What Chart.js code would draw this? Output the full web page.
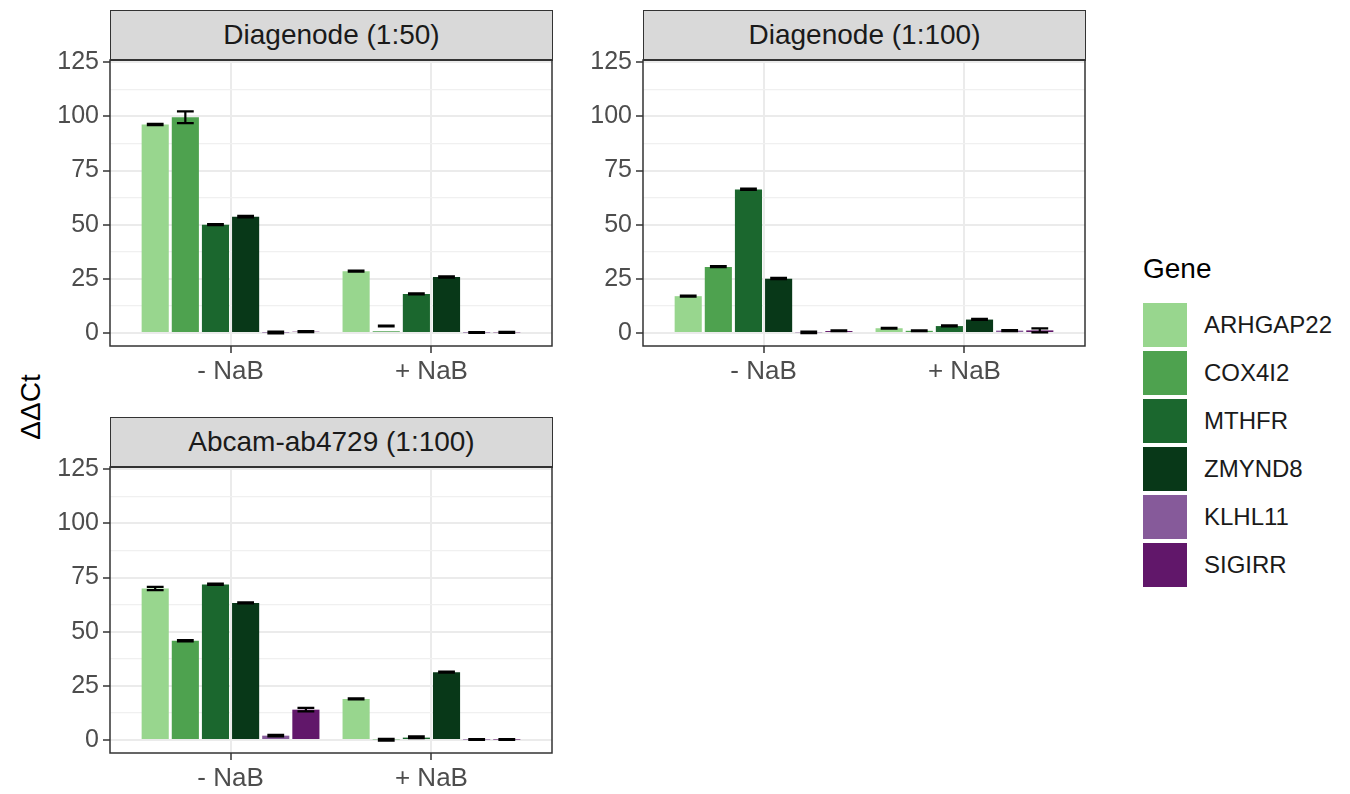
<!DOCTYPE html>
<html>
<head>
<meta charset="utf-8">
<script src="https://cdn.jsdelivr.net/npm/chart.js@4.4.1/dist/chart.umd.min.js"></script>
<style>
  body { margin: 0; background: #fff; width: 1350px; height: 794px; position: relative; overflow: hidden; font-family: "Liberation Sans", Arial, sans-serif; }
  canvas { position: absolute; }
  .strip { position: absolute; box-sizing: border-box; width: 443px; height: 51px; background: #d9d9d9; border: 1.5px solid #333; border-bottom-width: 2.5px; color: #1a1a1a; font-size: 28px; display: flex; align-items: center; justify-content: center; z-index: 2; }
  #ytitle { position: absolute; left: 31px; top: 407px; transform: translate(-50%, -50%) rotate(-90deg); font-size: 28px; white-space: nowrap; }
  #legend { position: absolute; left: 1143px; top: 253px; }
  #legend .title { font-size: 28px; margin-bottom: 16px; }
  #legend .row { display: flex; align-items: center; height: 48px; }
  #legend .key { width: 44px; height: 44px; margin-right: 17px; }
  #legend .lab { font-size: 24px; color: #1a1a1a; }
</style>
</head>
<body>
<canvas id="panel1" width="506" height="353" style="left:50px;top:38px"></canvas>
<canvas id="panel2" width="506" height="353" style="left:583px;top:38px"></canvas>
<canvas id="panel3" width="506" height="353" style="left:50px;top:445px"></canvas>
<div class="strip" id="strip1" style="left:110px;top:10px"></div>
<div class="strip" id="strip2" style="left:643px;top:10px"></div>
<div class="strip" id="strip3" style="left:110px;top:417px"></div>
<div id="ytitle">ΔΔCt</div>
<div id="legend"></div>

<script>
const genes = ["ARHGAP22", "COX4I2", "MTHFR", "ZMYND8", "KLHL11", "SIGIRR"];
const geneColors = ["#98d68e", "#4ea24f", "#1b672e", "#083818", "#865a9a", "#61176a"];
const treatments = ["- NaB", "+ NaB"];
const panelTitles = ["Diagenode (1:50)", "Diagenode (1:100)", "Abcam-ab4729 (1:100)"];
const yMajor = [0, 25, 50, 75, 100, 125];
const yMinor = [12.5, 37.5, 62.5, 87.5, 112.5];

// ddCt per gene, each pair is [- NaB, + NaB]; lo/hi are the error bar ends
const dia50Mean = [[96.2, 28.5], [99.6, 0.8], [50.0, 18.0], [53.7, 25.8], [0.2, 0.2], [0.6, 0.3]];
const dia50Lo = [[95.9, 28.3], [96.9, 3.1], [49.8, 17.8], [53.4, 25.6], [-0.2, 0.0], [0.4, 0.1]];
const dia50Hi = [[96.5, 28.8], [102.3, 3.4], [50.3, 18.3], [54.1, 26.1], [0.6, 0.4], [0.9, 0.5]];

const dia100Mean = [[17.0, 2.2], [30.5, 1.0], [66.2, 3.2], [25.0, 6.2], [0.3, 1.1], [0.9, 1.2]];
const dia100Lo = [[16.8, 2.0], [30.4, 0.8], [66.0, 3.0], [24.9, 6.0], [-0.1, 0.9], [0.8, 0.3]];
const dia100Hi = [[17.3, 2.4], [30.9, 1.2], [66.6, 3.5], [25.4, 6.5], [0.7, 1.3], [1.2, 2.1]];

const abcamMean = [[69.9, 18.9], [45.8, 0.3], [71.8, 1.1], [63.2, 31.3], [2.0, 0.2], [14.0, 0.2]];
const abcamLo = [[69.2, 18.7], [45.5, -0.3], [71.6, 0.9], [63.0, 31.1], [1.7, 0.0], [13.2, 0.0]];
const abcamHi = [[70.7, 19.2], [46.1, 0.5], [72.2, 1.7], [63.5, 31.6], [2.4, 0.4], [14.8, 0.4]];

const isMinor = (c) => c.tick && yMinor.includes(c.tick.value);

const errorBars = {
  id: "errorBars",
  afterDatasetsDraw(chart) {
    const { ctx } = chart;
    const y = chart.scales.y;
    ctx.save();
    ctx.strokeStyle = "#000";
    ctx.lineWidth = 2.2;
    chart.data.datasets.forEach((ds, i) => {
      chart.getDatasetMeta(i).data.forEach((bar, j) => {
        const top = y.getPixelForValue(ds.errHi[j]);
        const bottom = y.getPixelForValue(ds.errLo[j]);
        const half = bar.width * 0.31;
        ctx.beginPath();
        ctx.moveTo(bar.x - half, top);
        ctx.lineTo(bar.x + half, top);
        ctx.moveTo(bar.x, top);
        ctx.lineTo(bar.x, bottom);
        ctx.moveTo(bar.x - half, bottom);
        ctx.lineTo(bar.x + half, bottom);
        ctx.stroke();
      });
    });
    ctx.restore();
  },
  afterDraw(chart) {
    // panel border, like theme_bw
    const { ctx, chartArea: a } = chart;
    ctx.save();
    ctx.strokeStyle = "#333";
    ctx.lineWidth = 1.5;
    ctx.strokeRect(a.left, a.top, a.right - a.left, a.bottom - a.top);
    ctx.restore();
  },
};

const makePanel = (id, mean, lo, hi) => {
  new Chart(document.getElementById(id), {
    type: "bar",
    data: {
      datasets: genes.map((g, i) => ({
        label: g,
        backgroundColor: geneColors[i],
        data: treatments.map((t, j) => ({ x: j + 1, y: mean[i][j] })),
        errLo: lo[i],
        errHi: hi[i],
      })),
    },
    options: {
      responsive: false,
      animation: false,
      categoryPercentage: 0.9,
      barPercentage: 0.9,
      layout: { padding: { top: 22, right: 4, left: 0, bottom: 0 } },
      plugins: { legend: { display: false }, tooltip: { enabled: false } },
      scales: {
        x: {
          type: "linear",
          min: 0.4,
          max: 2.6,
          offset: false,
          afterBuildTicks: (s) => { s.ticks = treatments.map((t, j) => ({ value: j + 1 })); },
          afterFit: (s) => { s.height = 45; },
          border: { display: false },
          grid: { offset: false, color: "#ebebeb", lineWidth: 2, tickColor: "#333", tickWidth: 1.5, tickLength: 7 },
          ticks: {
            callback: (v) => treatments[v - 1] || "",
            color: "#4d4d4d",
            font: { family: "Liberation Sans, Arial, sans-serif", size: 26 },
            padding: 3,
            maxRotation: 0,
            autoSkip: false,
          },
        },
        y: {
          min: -6,
          max: 126,
          afterBuildTicks: (s) => { s.ticks = [...yMajor, ...yMinor].sort((a, b) => a - b).map((v) => ({ value: v })); },
          afterFit: (s) => { s.width = 60; },
          border: { display: false },
          grid: {
            color: (c) => (isMinor(c) ? "#f0f0f0" : "#ebebeb"),
            lineWidth: (c) => (isMinor(c) ? 1.2 : 2),
            tickColor: (c) => (isMinor(c) ? "rgba(0,0,0,0)" : "#333"),
            tickWidth: 1.5,
            tickLength: 7,
          },
          ticks: {
            callback: (v) => (yMajor.includes(v) ? v : ""),
            color: "#4d4d4d",
            font: { family: "Liberation Sans, Arial, sans-serif", size: 25 },
            padding: 4,
            autoSkip: false,
          },
        },
      },
    },
    plugins: [errorBars],
  });
};

makePanel("panel1", dia50Mean, dia50Lo, dia50Hi);
makePanel("panel2", dia100Mean, dia100Lo, dia100Hi);
makePanel("panel3", abcamMean, abcamLo, abcamHi);

panelTitles.forEach((t, i) => {
  document.getElementById("strip" + (i + 1)).textContent = t;
});

const legend = document.getElementById("legend");
legend.innerHTML = '<div class="title">Gene</div>';
genes.forEach((g, i) => {
  const row = document.createElement("div");
  row.className = "row";
  row.innerHTML = `<div class="key" style="background:${geneColors[i]}"></div><div class="lab">${g}</div>`;
  legend.appendChild(row);
});
</script>
</body>
</html>
